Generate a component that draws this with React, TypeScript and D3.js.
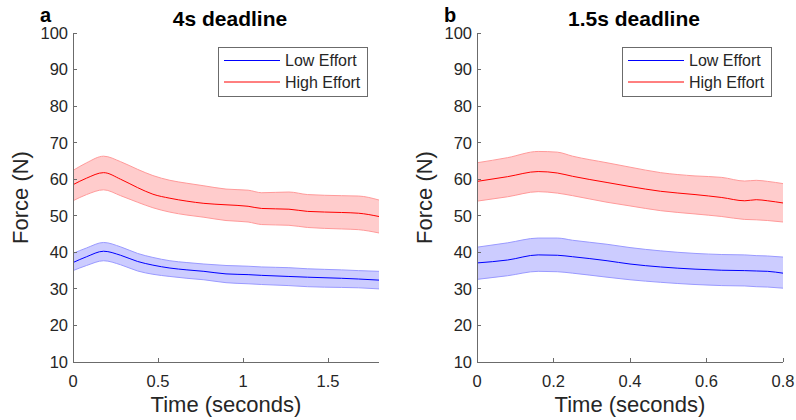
import React from "react";
import * as d3 from "d3";

// panel a: 4s deadline
const timeA = [0, 0.08, 0.18, 0.28, 0.38, 0.47, 0.57, 0.67, 0.77, 0.9, 1.03, 1.11, 1.27, 1.38, 1.58, 1.68, 1.8];
const highMeanA = [58.5, 60.3, 61.8, 60.0, 57.7, 55.9, 54.8, 54.0, 53.4, 53.0, 52.6, 52.0, 51.8, 51.2, 50.9, 50.7, 49.8];
const highUpperA = [62.4, 64.5, 66.3, 64.8, 62.7, 61.0, 59.7, 58.9, 58.2, 57.3, 57.0, 56.3, 56.5, 55.8, 55.5, 55.4, 54.3];
const highLowerA = [54.1, 55.8, 57.1, 55.5, 53.7, 52.2, 51.0, 50.2, 49.6, 48.7, 48.3, 47.6, 47.4, 46.8, 46.4, 46.2, 45.3];
const lowMeanA = [37.2, 38.8, 40.3, 39.2, 37.5, 36.5, 35.7, 35.2, 34.8, 34.1, 33.9, 33.7, 33.4, 33.2, 32.9, 32.7, 32.4];
const lowUpperA = [39.7, 41.2, 42.7, 41.5, 39.7, 38.6, 37.7, 37.2, 36.8, 36.4, 36.2, 36.0, 35.8, 35.5, 35.2, 35.0, 34.8];
const lowLowerA = [35.0, 36.4, 37.7, 36.6, 34.9, 34.0, 33.4, 32.9, 32.5, 31.7, 31.4, 31.2, 30.9, 30.6, 30.4, 30.3, 30.0];
const xTicksA = [0, 0.5, 1, 1.5];

// panel b: 1.5s deadline
const timeB = [0, 0.08, 0.16, 0.21, 0.25, 0.34, 0.4, 0.48, 0.57, 0.64, 0.7, 0.73, 0.76, 0.8];
const highMeanB = [59.4, 60.7, 62.1, 61.7, 60.8, 59.1, 58.0, 56.7, 55.8, 55.0, 54.1, 54.4, 54.1, 53.5];
const highUpperB = [64.5, 65.9, 67.6, 67.4, 66.3, 64.5, 63.3, 61.8, 60.9, 60.5, 59.5, 59.7, 59.4, 58.8];
const highLowerB = [54.0, 55.2, 56.6, 56.2, 55.5, 53.7, 52.7, 51.4, 50.5, 49.8, 49.0, 48.9, 48.7, 48.3];
const lowMeanB = [37.1, 37.9, 39.3, 39.2, 38.8, 37.7, 36.8, 36.0, 35.4, 35.1, 35.0, 34.9, 34.8, 34.3];
const lowUpperB = [41.4, 42.6, 43.9, 43.9, 43.3, 42.2, 41.3, 40.4, 39.7, 39.4, 39.3, 39.1, 39.0, 38.7];
const lowLowerB = [32.6, 33.6, 34.8, 34.7, 34.3, 33.2, 32.5, 31.8, 31.2, 30.9, 30.8, 30.6, 30.5, 30.2];
const xTicksB = [0, 0.2, 0.4, 0.6, 0.8];

const yTicks = [10, 20, 30, 40, 50, 60, 70, 80, 90, 100];
const legendLabels = ["Low Effort", "High Effort"];

const FONT = "'Liberation Sans', Arial, Helvetica, sans-serif";
const AXIS = "#6b6b6b";
const TXT = "#262626";

type Series = { mean: number[]; upper: number[]; lower: number[]; line: string; fill: string; edge: string };

interface PanelProps {
  left: number;
  right: number;
  xMax: number;
  xTicks: number[];
  time: number[];
  series: Series[];
  letter: string;
  title: string;
}

const top = 33;
const bottom = 362;

const Panel: React.FC<PanelProps> = ({ left, right, xMax, xTicks, time, series, letter, title }) => {
  const x = d3.scaleLinear().domain([0, xMax]).range([left, right]);
  const y = d3.scaleLinear().domain([10, 100]).range([bottom, top]);
  const cx = (left + right) / 2;

  const lineOf = (vals: number[]) =>
    d3
      .line<number>()
      .x((_, i) => x(time[i]))
      .y((v) => y(v))
      .curve(d3.curveMonotoneX)(vals) || "";

  const legX = right - 161;
  return (
    <g fontFamily={FONT}>
      {series.map((s, k) => {
        const area = d3
          .area<number>()
          .x((i) => x(time[i]))
          .y0((i) => y(s.lower[i]))
          .y1((i) => y(s.upper[i]))
          .curve(d3.curveMonotoneX)(d3.range(time.length)) || "";
        return (
          <g key={k}>
            <path d={area} fill={s.fill} />
            <path d={lineOf(s.upper)} fill="none" stroke={s.edge} strokeWidth={1} />
            <path d={lineOf(s.lower)} fill="none" stroke={s.edge} strokeWidth={1} />
            <path d={lineOf(s.mean)} fill="none" stroke={s.line} strokeWidth={1} />
          </g>
        );
      })}

      {/* axes */}
      <line x1={left} x2={left} y1={top} y2={bottom} stroke={AXIS} shapeRendering="crispEdges" />
      <line x1={left} x2={right} y1={bottom} y2={bottom} stroke={AXIS} shapeRendering="crispEdges" />
      {yTicks.map((t) => (
        <g key={t}>
          <line x1={left} x2={left + 4} y1={y(t)} y2={y(t)} stroke={AXIS} shapeRendering="crispEdges" />
          <text x={left - 5} y={y(t)} dy="0.36em" textAnchor="end" fontSize={16.5} fill={TXT}>
            {t}
          </text>
        </g>
      ))}
      {xTicks.map((t) => (
        <g key={t}>
          <line x1={x(t)} x2={x(t)} y1={bottom} y2={bottom - 4} stroke={AXIS} shapeRendering="crispEdges" />
          <text x={x(t)} y={bottom + 25} textAnchor="middle" fontSize={16.5} fill={TXT}>
            {t}
          </text>
        </g>
      ))}

      {/* labels */}
      <text x={cx} y={412} textAnchor="middle" fontSize={22} fill={TXT}>
        Time (seconds)
      </text>
      <text
        transform={`translate(${left - 45},${(top + bottom) / 2}) rotate(-90)`}
        textAnchor="middle"
        fontSize={22}
        fill={TXT}
      >
        Force (N)
      </text>
      <text x={cx + 4} y={26} textAnchor="middle" fontSize={21} fontWeight="bold" fill="#000">
        {title}
      </text>
      <text x={left - 33} y={22} fontSize={20} fontWeight="bold" fill="#000">
        {letter}
      </text>

      {/* legend */}
      <rect x={legX} y={47} width={149} height={49} fill="#fff" stroke={AXIS} shapeRendering="crispEdges" />
      {legendLabels.map((lab, i) => (
        <g key={lab}>
          <line x1={legX + 6} x2={legX + 62} y1={60.5 + i * 21.5} y2={60.5 + i * 21.5} stroke={series[i].line} strokeWidth={1} />
          <text x={legX + 67} y={60.5 + i * 21.5} dy="0.36em" fontSize={16} fill={TXT}>
            {lab}
          </text>
        </g>
      ))}
    </g>
  );
};

const blue = { line: "#0000ff", fill: "#ccccff", edge: "#9a9aff" };
const red = { line: "#ff0000", fill: "#ffcccc", edge: "#ff9a9a" };

export default function App() {
  return (
    <svg
      width={796}
      height={420}
      style={{ position: "absolute", left: 0, top: 0, background: "#fff" }}
    >
      <Panel
        left={73}
        right={379}
        xMax={1.8}
        xTicks={xTicksA}
        time={timeA}
        letter="a"
        title="4s deadline"
        series={[
          { mean: lowMeanA, upper: lowUpperA, lower: lowLowerA, ...blue },
          { mean: highMeanA, upper: highUpperA, lower: highLowerA, ...red },
        ]}
      />
      <Panel
        left={477}
        right={783}
        xMax={0.8}
        xTicks={xTicksB}
        time={timeB}
        letter="b"
        title="1.5s deadline"
        series={[
          { mean: lowMeanB, upper: lowUpperB, lower: lowLowerB, ...blue },
          { mean: highMeanB, upper: highUpperB, lower: highLowerB, ...red },
        ]}
      />
    </svg>
  );
}
